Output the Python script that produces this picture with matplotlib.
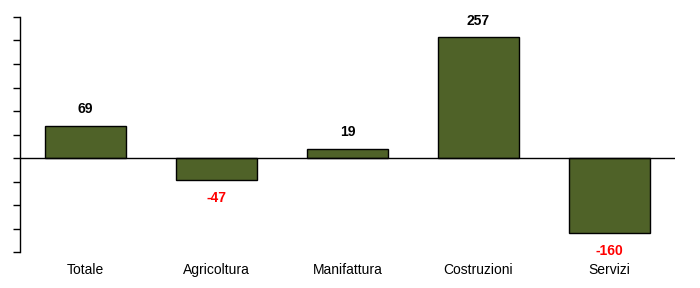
import matplotlib
matplotlib.use("Agg")
import matplotlib.pyplot as plt

plt.rcParams['font.family'] = ['Liberation Sans', 'DejaVu Sans']

categories = ["Totale", "Agricoltura", "Manifattura", "Costruzioni", "Servizi"]
values = [69, -47, 19, 257, -160]

fig = plt.figure(figsize=(7, 2.88), dpi=100)
ax = fig.add_axes([20/700, 1 - 252/288, 655/700, 235/288])

x = range(len(categories))
ax.bar(x, values, width=0.62, color="#4F6228", edgecolor="black", linewidth=1.0, zorder=2)
ax.axhline(0, color="black", linewidth=1, zorder=3)

for i, v in enumerate(values):
    if v >= 0:
        ax.annotate(str(v), (i, v), xytext=(0, 12), textcoords="offset points",
                    ha="center", va="center", fontsize=10, fontweight="bold", color="black")
    else:
        ax.annotate(str(v), (i, v), xytext=(0, -13), textcoords="offset points",
                    ha="center", va="center", fontsize=10, fontweight="bold", color="red")

ax.set_xlim(-0.5, len(categories) - 0.5)
ax.set_ylim(-200, 300)
ax.set_yticks(range(-200, 301, 50))
ax.set_yticklabels([])
ax.tick_params(axis="y", length=5, width=1, direction="out")
ax.set_xticks(list(x))
ax.set_xticklabels(categories, fontsize=10)
ax.tick_params(axis="x", length=0, pad=8)

for s in ["top", "right", "bottom"]:
    ax.spines[s].set_visible(False)
ax.spines["left"].set_linewidth(1)

fig.savefig("out.png", dpi=100)
